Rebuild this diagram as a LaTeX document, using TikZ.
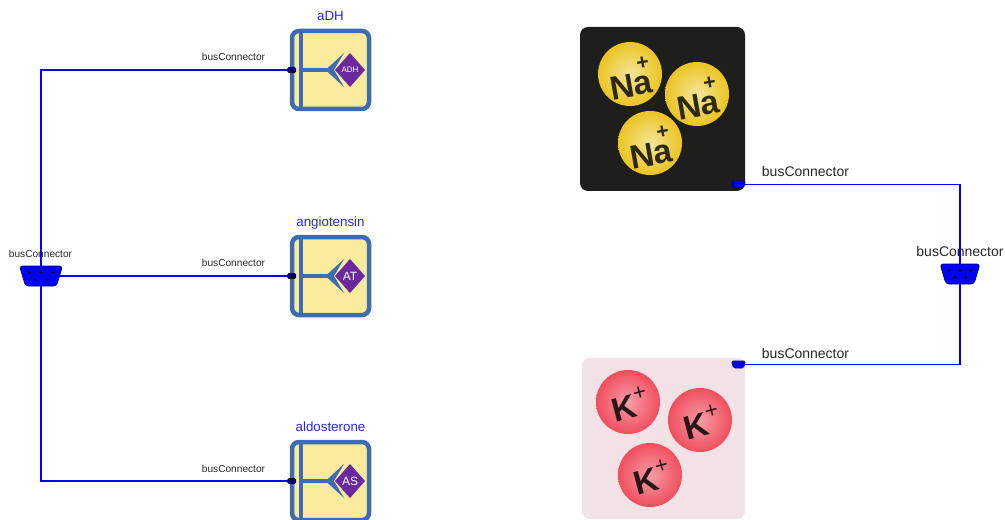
\documentclass[tikz,border=0pt]{standalone}
\usepackage{fontspec}
\setmainfont{Liberation Sans}
\usetikzlibrary{backgrounds}

\newdimen\pxu
\pxu=0.75pt

\definecolor{busblue}{RGB}{0,0,255}
\definecolor{blockedge}{RGB}{61,108,178}
\definecolor{blockfill}{RGB}{250,234,156}
\definecolor{hormone}{RGB}{108,40,158}
\definecolor{labelblue}{RGB}{35,35,255}
\definecolor{naback}{RGB}{30,30,28}
\definecolor{nayellow}{RGB}{234,196,32}
\definecolor{natext}{RGB}{46,42,18}
\definecolor{kback}{RGB}{242,225,229}
\definecolor{kred}{RGB}{240,78,94}
\definecolor{ktext}{RGB}{42,22,22}

\tikzset{
  bus/.style={draw=busblue, line width=1.6\pxu},
  block/.style={draw=blockedge, fill=blockfill, line width=4.5\pxu,
    rounded corners=7\pxu, minimum width=77\pxu, minimum height=78\pxu, inner sep=0pt},
  blocklabel/.style={text=labelblue, font=\fontsize{10}{12}\selectfont, anchor=base},
  buslabel/.style={text=black!85, font=\fontsize{7.6}{9}\selectfont},
  biglabel/.style={text=black!85, font=\fontsize{10.5}{12}\selectfont},
  busicon/.style={fill=busblue, draw=blue!45!black, line width=0.5pt, rounded corners=3\pxu},
  porticon/.style={draw=black, fill=blue!40!black, line width=0.5pt,
    rounded corners=1\pxu, minimum width=8\pxu, minimum height=5\pxu, inner sep=0pt},
  ion/.style={font=\fontsize{25}{25}\selectfont\bfseries, inner sep=0pt}
}

\begin{document}
\begin{tikzpicture}[x=1\pxu, y=-1\pxu]
  \useasboundingbox (0,0) rectangle (1005,520);

  % hormone blocks
  \node[block] (adh) at (330.5,70) {};
  \node[block] (at) at (330.5,276) {};
  \node[block] (as) at (330.5,481) {};

  \node[blocklabel] (adhname) at (330.5,21) {aDH};
  \node[blocklabel] (atname) at (330.5,226) {angiotensin};
  \node[blocklabel] (asname) at (330.5,431) {aldosterone};

  \foreach \b/\t/\s in {adh/ADH/6, at/AT/9, as/AS/9} {
    \begin{scope}[shift={(\b.center)}]
      \fill[blockedge] (-31.5,-37) rectangle (-27.5,37);
      \fill[blockedge] (-28,-2) rectangle (-3,2);
      \fill[blockedge] (-5,0) -- (13.5,-17) -- (3.5,0) -- (13.5,17) -- cycle;
      \fill[hormone] (4.5,0) -- (19.5,-17) -- (34.5,0) -- (19.5,17) -- cycle;
      \node[text=white, font=\fontsize{\s}{\s}\selectfont] (\b tag) at (19.5,0) {\t};
    \end{scope}
  }

  \node[porticon] (adhport) at ([xshift=2\pxu]adh.west) {};
  \node[porticon] (atport) at ([xshift=2\pxu]at.west) {};
  \node[porticon] (asport) at ([xshift=2\pxu]as.west) {};

  % left bus
  \coordinate (lbus) at (41,276);
  \begin{scope}[on background layer]
    \draw[bus] (lbus) |- (adhport.center);
    \draw[bus] (lbus) -- (atport.center);
    \draw[bus] (lbus) |- (asport.center);
  \end{scope}
  \path[busicon, shift={(lbus)}] (-21.5,-10) -- (21.5,-10) -- (15.5,10) -- (-15.5,10) -- cycle;
  \foreach \dx/\dy in {-12/-3.5, 0/-3.5, 12/-3.5, -6/3.5, 6/3.5}
    \fill ([shift={(\dx,\dy)}]lbus) circle (1.5\pxu);
  \node[buslabel] (lbuslbl) at (40.5,254) {busConnector};

  \node[buslabel] (adhbus) at (233.5,57) {busConnector};
  \node[buslabel] (atbus) at (233.5,263) {busConnector};
  \node[buslabel] (asbus) at (233.5,469) {busConnector};

  % sodium icon
  \fill[naback, rounded corners=8\pxu] (580,27) rectangle (745,191);
  \shade[inner color=nayellow!45!white, outer color=nayellow] (630,74) circle (32\pxu);
  \shade[inner color=nayellow!45!white, outer color=nayellow] (697,94) circle (32\pxu);
  \shade[inner color=nayellow!45!white, outer color=nayellow] (650,143) circle (32\pxu);
  \node[ion, text=natext, rotate=10] (na1) at (630,78) {Na\llap{\raisebox{.75em}{\fontsize{16}{16}\selectfont+}}};
  \node[ion, text=natext, rotate=10] (na2) at (697,98) {Na\llap{\raisebox{.75em}{\fontsize{16}{16}\selectfont+}}};
  \node[ion, text=natext, rotate=10] (na3) at (650,147) {Na\llap{\raisebox{.75em}{\fontsize{16}{16}\selectfont+}}};

  % potassium icon
  \fill[kback, rounded corners=8\pxu] (582,358) rectangle (745,519);
  \shade[inner color=kred!55!white, outer color=kred] (628,402) circle (32\pxu);
  \shade[inner color=kred!55!white, outer color=kred] (700,420) circle (32\pxu);
  \shade[inner color=kred!55!white, outer color=kred] (650,475) circle (32\pxu);
  \node[ion, text=ktext, rotate=15] (k1) at (630,404) {K\raisebox{.45em}{\mdseries\fontsize{17}{17}\selectfont+}};
  \node[ion, text=ktext, rotate=15] (k2) at (702,422) {K\raisebox{.45em}{\mdseries\fontsize{17}{17}\selectfont+}};
  \node[ion, text=ktext, rotate=15] (k3) at (652,477) {K\raisebox{.45em}{\mdseries\fontsize{17}{17}\selectfont+}};

  % right bus
  \coordinate (naport) at (738.5,184.5);
  \coordinate (kport) at (738.5,364.5);
  \coordinate (rbus) at (960,274);
  \draw[bus] (naport) -| (rbus);
  \draw[bus] (kport) -| (rbus);
  \foreach \p in {naport, kport} {
    \path[busicon, rounded corners=1.5\pxu, shift={(\p)}] (-7,-3.5) -- (7,-3.5) -- (5,3.5) -- (-5,3.5) -- cycle;
    \foreach \dx/\dy in {-4/-1.2, 0/-1.2, 4/-1.2, -2/1.4, 2/1.4}
      \fill ([shift={(\dx,\dy)}]\p) circle (0.7\pxu);
  }
  \path[busicon, shift={(rbus)}] (-20,-10) -- (20,-10) -- (14,10) -- (-14,10) -- cycle;
  \foreach \dx/\dy in {-11/-3.5, 0/-3.5, 11/-3.5, -5.5/3.5, 5.5/3.5}
    \fill ([shift={(\dx,\dy)}]rbus) circle (1.5\pxu);
  \node[biglabel] (rbuslbl) at (960,251) {busConnector};

  \node[biglabel] (nabus) at (805.5,171) {busConnector};
  \node[biglabel] (kbus) at (805.5,353) {busConnector};
\end{tikzpicture}
\end{document}
